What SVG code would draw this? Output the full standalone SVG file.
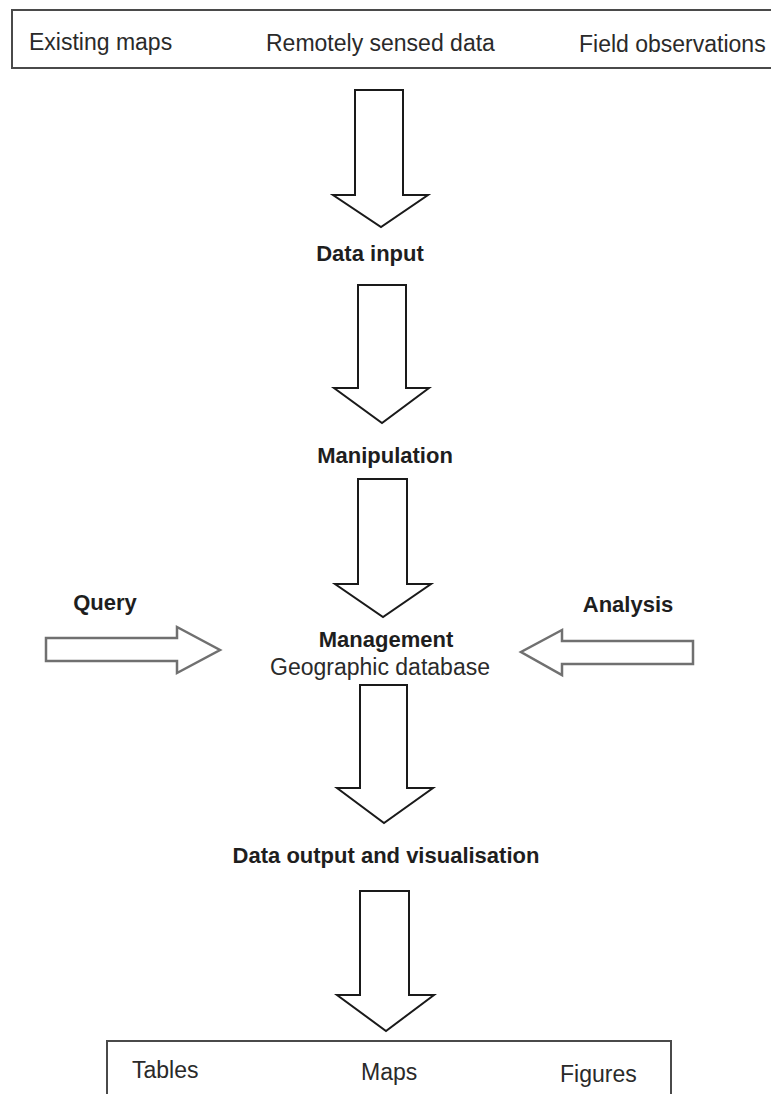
<svg xmlns="http://www.w3.org/2000/svg" width="771" height="1094" viewBox="0 0 771 1094">
<style>
.bg{fill:#ffffff}
.box{fill:#ffffff;stroke:#4a4a4a;stroke-width:2}
.t{font-family:"Liberation Sans",Arial,sans-serif;font-size:23px;fill:#2a2a2a}
.b{font-family:"Liberation Sans",Arial,sans-serif;font-size:22px;font-weight:bold;fill:#1e1e1e}
.va{fill:#ffffff;stroke:#1a1a1a;stroke-width:2;stroke-linejoin:miter}
.ha{fill:#ffffff;stroke:#707070;stroke-width:2.5;stroke-linejoin:miter}
</style>
<rect class="bg" x="0" y="0" width="771" height="1094"/>
<g id="sources">
<rect class="box" x="12" y="10" width="780" height="58"/>
<text class="t" x="29" y="50">Existing maps</text>
<text class="t" x="266" y="51">Remotely sensed data</text>
<text class="t" x="579" y="52">Field observations</text>
</g>
<g id="data-input"><text class="b" x="370" y="261" text-anchor="middle">Data input</text></g>
<g id="manipulation"><text class="b" x="385" y="463" text-anchor="middle">Manipulation</text></g>
<g id="query"><text class="b" x="105" y="610" text-anchor="middle">Query</text></g>
<g id="analysis"><text class="b" x="628" y="612" text-anchor="middle">Analysis</text></g>
<g id="management">
<text class="b" x="386" y="647" text-anchor="middle">Management</text>
<text class="t" x="380" y="675" text-anchor="middle">Geographic database</text>
</g>
<g id="data-output"><text class="b" x="386" y="863" text-anchor="middle">Data output and visualisation</text></g>
<g id="outputs">
<rect class="box" x="107" y="1041" width="564" height="70"/>
<text class="t" x="132" y="1078">Tables</text>
<text class="t" x="361" y="1080">Maps</text>
<text class="t" x="560" y="1082">Figures</text>
</g>
<g id="connectors">
<polygon class="va" points="355,90 403,90 403,195 428,195 381,227 333,195 355,195"/>
<polygon class="va" points="358,285 406,285 406,388 429,388 382,423 334,388 358,388"/>
<polygon class="va" points="358,479 407,479 407,584 431,584 383,617 335,584 358,584"/>
<polygon class="va" points="360,685 407,685 407,788 433,788 384,823 337,788 360,788"/>
<polygon class="va" points="360,891 409,891 409,995 434,995 386,1031 337,995 360,995"/>
<polygon class="ha" points="46,638 177,638 177,627 220,650 177,673 177,661 46,661"/>
<polygon class="ha" points="693,641 562,641 562,630 521,652 562,675 562,664 693,664"/>
</g>
</svg>
